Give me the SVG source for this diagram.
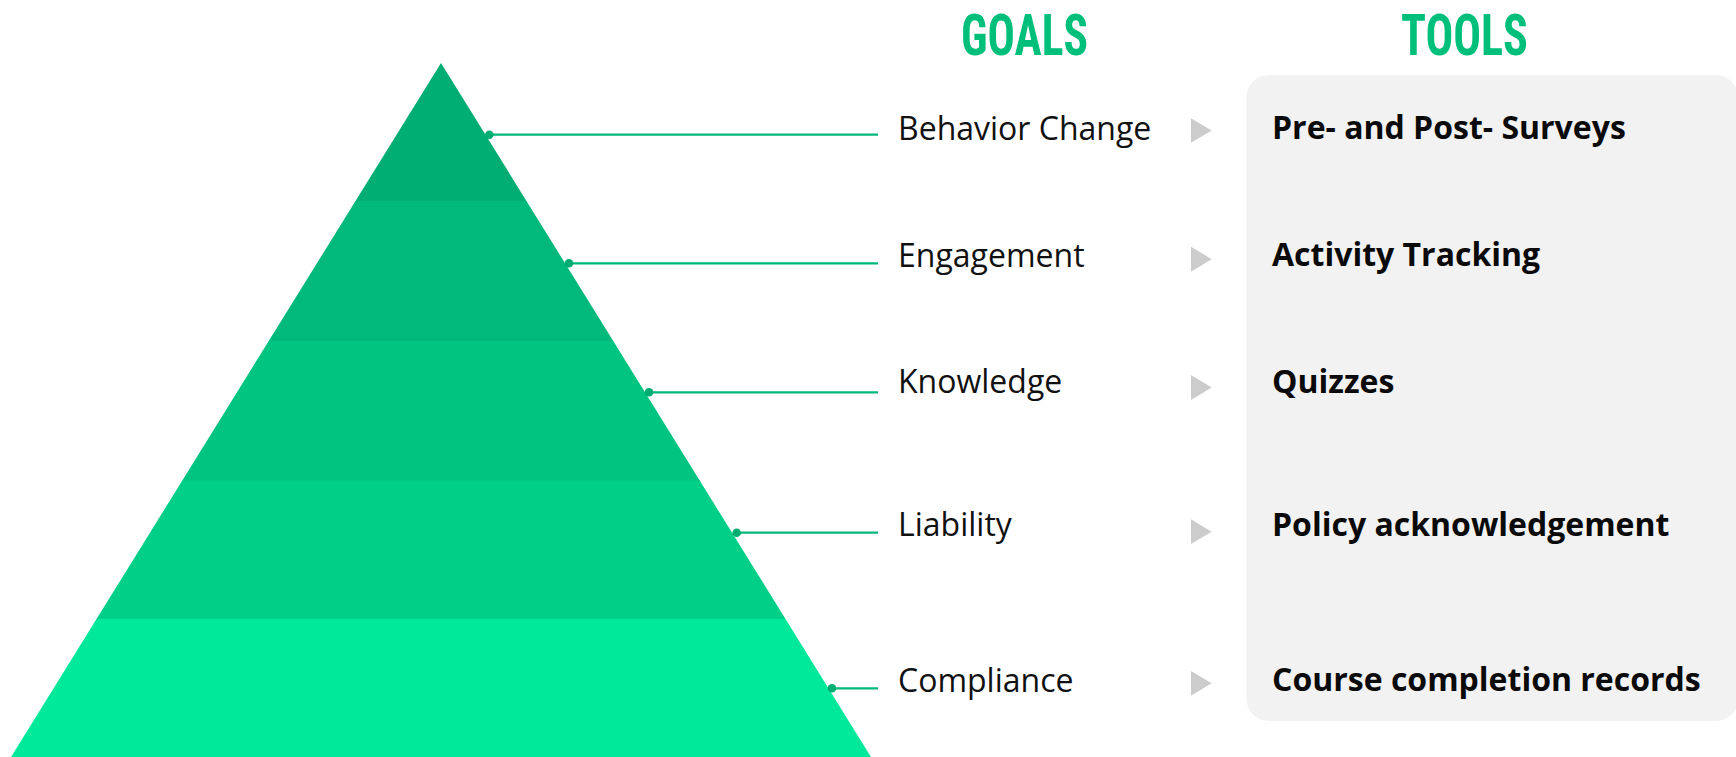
<svg xmlns="http://www.w3.org/2000/svg" width="1736" height="757" viewBox="0 0 1736 757">
  <defs>
    <style>
      .head { font-family: "Liberation Sans Narrow", "Roboto Condensed", "DejaVu Sans Condensed", "Liberation Sans", sans-serif; font-weight: 700; font-size: 58px; fill: #00BF7A; }
      .goal { font-family: "Open Sans", "Noto Sans", sans-serif; font-size: 32px; fill: #111111; }
      .tool { font-family: "Open Sans", "Noto Sans", sans-serif; font-weight: 700; font-size: 32px; fill: #0a0a0a; }
      .link { stroke: #00B77A; stroke-width: 2.2; fill: none; }
      .dot { fill: #00AE72; }
      .arrow { fill: #CCCCCC; }
    </style>
    <clipPath id="pyramidClip">
      <polygon points="441,63 871,757 11,757"/>
    </clipPath>
  </defs>

  <rect width="1736" height="757" fill="#ffffff"/>

  <!-- column headings -->
  <text class="head" x="961" y="55" textLength="127" lengthAdjust="spacingAndGlyphs">GOALS</text>
  <text class="head" x="1401" y="55" textLength="127" lengthAdjust="spacingAndGlyphs">TOOLS</text>

  <!-- tools panel -->
  <rect id="tools-panel" x="1246.5" y="75" width="491.5" height="646" rx="22" ry="22" fill="#F2F2F2"/>

  <!-- pyramid bands, top to bottom -->
  <g id="pyramid" clip-path="url(#pyramidClip)">
    <rect id="band-behavior" x="0" y="60" width="900" height="141.5" fill="#00AE73"/>
    <rect id="band-engagement" x="0" y="201" width="900" height="140.5" fill="#00B97A"/>
    <rect id="band-knowledge" x="0" y="341" width="900" height="140" fill="#00C581"/>
    <rect id="band-liability" x="0" y="480.5" width="900" height="139" fill="#00CF88"/>
    <rect id="band-compliance" x="0" y="619" width="900" height="140" fill="#00E899"/>
  </g>

  <!-- leader lines from pyramid edge to goal labels -->
  <g id="connectors">
    <line class="link" x1="489" y1="134.7" x2="878" y2="134.7"/>
    <line class="link" x1="569" y1="263.3" x2="878" y2="263.3"/>
    <line class="link" x1="649" y1="392.3" x2="878" y2="392.3"/>
    <line class="link" x1="736.5" y1="532.7" x2="878" y2="532.7"/>
    <line class="link" x1="832" y1="688.3" x2="878" y2="688.3"/>
    <circle class="dot" cx="489.3" cy="134.7" r="4.3"/>
    <circle class="dot" cx="569" cy="263.3" r="4.3"/>
    <circle class="dot" cx="649" cy="392.3" r="4.3"/>
    <circle class="dot" cx="736.7" cy="532.7" r="4.3"/>
    <circle class="dot" cx="832" cy="688.3" r="4.3"/>
    <polygon class="arrow" points="1191,118.3 1211.7,130.5 1191,142.7"/>
    <polygon class="arrow" points="1191,246.7 1211.7,259.2 1191,271.7"/>
    <polygon class="arrow" points="1191,375 1211.7,387.5 1191,400"/>
    <polygon class="arrow" points="1191,519.3 1211.7,531.7 1191,544"/>
    <polygon class="arrow" points="1191,671 1211.7,683.3 1191,695.7"/>
  </g>

  <!-- goal labels -->
  <g id="goal-behavior"><text class="goal" x="898" y="140">Behavior Change</text></g>
  <g id="goal-engagement"><text class="goal" x="898" y="266.7">Engagement</text></g>
  <g id="goal-knowledge"><text class="goal" x="898" y="393">Knowledge</text></g>
  <g id="goal-liability"><text class="goal" x="898" y="535.7">Liability</text></g>
  <g id="goal-compliance"><text class="goal" x="898" y="691.7">Compliance</text></g>

  <!-- tool labels -->
  <g id="tool-surveys"><text class="tool" x="1272" y="139.3">Pre- and Post- Surveys</text></g>
  <g id="tool-tracking"><text class="tool" x="1272" y="266.3">Activity Tracking</text></g>
  <g id="tool-quizzes"><text class="tool" x="1272" y="393">Quizzes</text></g>
  <g id="tool-policy"><text class="tool" x="1272" y="535.5">Policy acknowledgement</text></g>
  <g id="tool-records"><text class="tool" x="1272" y="690.7">Course completion records</text></g>
</svg>
